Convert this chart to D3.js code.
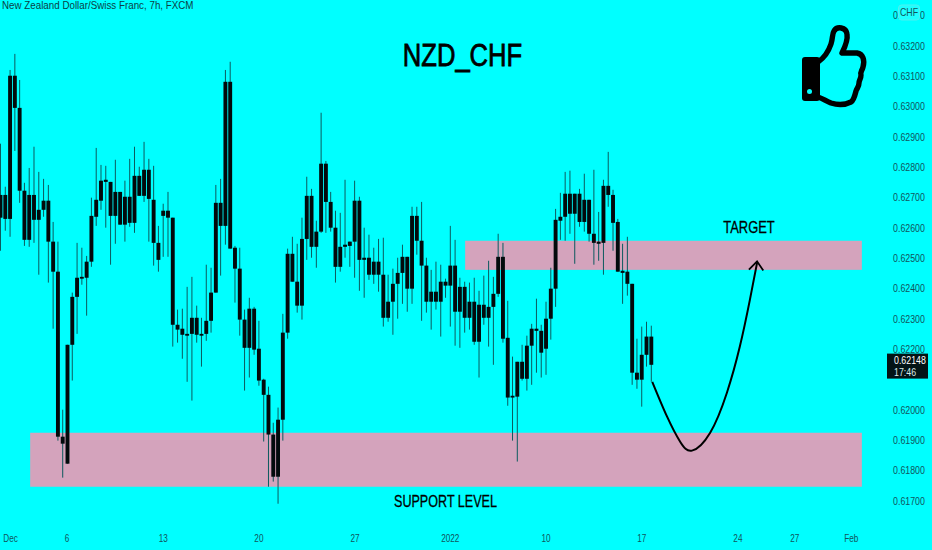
<!DOCTYPE html>
<html><head><meta charset="utf-8">
<script src="https://cdn.jsdelivr.net/npm/d3@7"></script>
<style>html,body{margin:0;padding:0;background:#00ffff;overflow:hidden}svg{display:block}text{font-family:"Liberation Sans",sans-serif}</style>
</head><body><svg id="c" width="932" height="550"></svg>
<script>
// prices in points of 0.00001
const bodyHigh=[62709,62709,63102,63102,62996,62723,62709,62709,62660,62690,62690,62555,62456,61912,62215,62373,62436,62439,62489,62640,62693,62756,62759,62752,62719,62719,62703,62703,62772,62772,62792,62792,62693,62551,62657,62657,62634,62281,62268,62251,62304,62304,62251,62294,62387,62683,62683,63082,63082,62535,62466,62298,62334,62334,62202,62100,62050,61919,61968,62255,62515,62515,62423,62564,62706,62706,62588,62812,62812,62686,62601,62538,62545,62555,62690,62690,62502,62502,62489,62489,62446,62357,62416,62452,62505,62505,62640,62640,62558,62476,62390,62390,62423,62423,62476,62476,62406,62406,62357,62357,62347,62347,62340,62383,62505,62505,62238,62047,62159,62159,62212,62268,62268,62261,62301,62400,62627,62637,62713,62713,62713,62713,62693,62693,62581,62555,62739,62739,62709,62620,62459,62456,62416,62123,62182,62242,62242];
const bodyLow=[62634,62630,62630,62996,62723,62561,62561,62627,62627,62660,62555,62456,61912,61889,61823,62215,62373,62433,62436,62489,62637,62690,62752,62640,62640,62611,62611,62617,62617,62706,62706,62696,62551,62495,62640,62634,62281,62265,62248,62245,62251,62248,62245,62251,62294,62387,62607,62607,62532,62466,62298,62205,62205,62199,62097,62050,61919,61780,61780,61968,62255,62423,62344,62344,62564,62538,62538,62588,62686,62601,62472,62472,62538,62541,62555,62495,62495,62446,62446,62446,62304,62304,62357,62416,62452,62400,62400,62558,62476,62357,62357,62357,62357,62410,62410,62324,62324,62304,62304,62225,62225,62304,62304,62340,62383,62235,62041,62041,62044,62103,62103,62212,62261,62189,62202,62301,62400,62624,62637,62647,62647,62620,62620,62581,62551,62548,62551,62709,62617,62456,62452,62416,62123,62100,62100,62182,62149];
const wickHigh=[62878,62736,63121,63174,63088,62749,62798,62868,62785,62762,62742,62620,62555,62001,62215,62387,62551,62535,62508,62700,62864,62808,62805,62752,62825,62719,62756,62828,62868,62802,62884,62828,62805,62607,62680,62719,62634,62331,62334,62406,62439,62344,62304,62479,62469,62742,62762,63121,63148,62541,62535,62331,62370,62340,62294,62103,62077,61958,62008,62317,62532,62571,62548,62634,62769,62729,62624,62980,62821,62719,62657,62650,62759,62555,62756,62703,62601,62578,62535,62564,62568,62446,62466,62502,62545,62505,62670,62670,62686,62502,62462,62489,62479,62433,62607,62561,62436,62423,62420,62436,62393,62443,62492,62439,62581,62551,62360,62176,62159,62215,62245,62284,62367,62281,62357,62469,62663,62716,62785,62789,62713,62729,62779,62693,62792,62653,62759,62851,62726,62630,62548,62571,62416,62235,62275,62291,62278];
const wickLow=[62525,62591,62571,62854,62683,62541,62538,62551,62446,62637,62420,62268,61899,61777,61823,62097,62251,62413,62311,62472,62607,62660,62601,62479,62548,62611,62555,62604,62584,62706,62686,62555,62476,62456,62505,62505,62209,62222,62169,62093,62031,62222,62143,62228,62255,62387,62443,62545,62532,62354,62245,62064,62107,62182,62080,61896,61747,61764,61691,61899,62235,62423,62321,62298,62495,62502,62469,62584,62584,62588,62420,62456,62502,62472,62436,62393,62370,62429,62416,62390,62275,62291,62248,62301,62350,62324,62350,62512,62294,62321,62265,62331,62242,62370,62275,62212,62205,62255,62265,62215,62107,62281,62209,62149,62373,62222,62014,61899,61830,62097,62064,62083,62123,62107,62116,62232,62340,62561,62558,62581,62482,62604,62588,62555,62479,62492,62446,62670,62525,62456,62350,62377,62083,62070,62011,62143,62093];

const priceTicks=[63300,63200,63100,63000,62900,62800,62700,62600,62500,62400,62300,62200,62000,61900,61800,61700];
const timeLabels=["Dec","6","13","20","27","2022","10","17","24","27","Feb"];
const timeBars=[2.1,13.9,34,54,74.1,94,114,134,154.1,166,177.8];

const targetZone={fromBar:97.1,toBar:180,high:62558,low:62462};
const supportZone={fromBar:6.2,toBar:180,high:61925,low:61747};
const pathBars=[136.2,139.3,142,144.5,148.3,151.8,154.5,156.6,158.1];
const pathPrices=[62093,61978,61896,61866,61925,62057,62209,62363,62485];
const arrowBars=[156.4,158.1,159.4];
const arrowPrices=[62463,62490,62460];
const lastPrice=62148, lastPriceLabel="0.62148", countdown="17:46";

const svg=d3.select("#c");
const x=d3.scaleLinear().domain([0,136]).range([0.5,651.3]);
const y=d3.scaleLinear().domain([63200,61700]).range([46,501]);

// squeeze text horizontally to the reference's narrow lettering
function condense(sel,f){
  sel.each(function(){
    const w=this.getComputedTextLength();
    d3.select(this).attr("textLength",w*f).attr("lengthAdjust","spacingAndGlyphs");
  });
  return sel;
}

svg.append("rect").attr("width",932).attr("height",550).attr("fill","#00ffff");

// zones
[targetZone,supportZone].forEach(z=>{
  svg.append("rect").attr("x",x(z.fromBar)).attr("width",x(z.toBar)-x(z.fromBar))
    .attr("y",y(z.high)).attr("height",y(z.low)-y(z.high)).attr("fill","#d4a3bc");
});

// candles
const idx=d3.range(bodyHigh.length);
svg.append("g").selectAll("line").data(idx).join("line")
  .attr("x1",i=>x(i)).attr("x2",i=>x(i)).attr("y1",i=>y(wickHigh[i])).attr("y2",i=>y(wickLow[i]))
  .attr("stroke","#0c5a5e").attr("stroke-width",1);
svg.append("g").selectAll("rect").data(idx).join("rect")
  .attr("x",i=>x(i)-1.95).attr("width",3.9).attr("y",i=>y(bodyHigh[i]))
  .attr("height",i=>Math.max(1.2,y(bodyLow[i])-y(bodyHigh[i]))).attr("fill","#020a0c");

// projected path
svg.append("path").attr("d",d3.line().x(d=>x(d[0])).y(d=>y(d[1])).curve(d3.curveNatural)(d3.zip(pathBars,pathPrices)))
  .attr("fill","none").attr("stroke","#000").attr("stroke-width",2);
svg.append("path").attr("d",d3.line().x(d=>x(d[0])).y(d=>y(d[1]))(d3.zip(arrowBars,arrowPrices)))
  .attr("fill","none").attr("stroke","#000").attr("stroke-width",1.8);

// price axis
condense(svg.append("g").selectAll("text").data(priceTicks).join("text")
  .attr("x",909).attr("y",d=>y(d)+3.5).attr("text-anchor","middle")
  .attr("font-size",11).attr("fill","#11555c").text(d=>(d/100000).toFixed(5)),0.8);
// time axis
condense(svg.append("g").selectAll("text").data(timeBars).join("text")
  .attr("x",d=>x(d)).attr("y",542).attr("text-anchor","middle")
  .attr("font-size",10.5).attr("fill","#11555c").text((d,i)=>timeLabels[i]),0.78);

// currency badge
svg.append("rect").attr("x",898.5).attr("y",5).attr("width",21).attr("height",15).attr("rx",3)
  .attr("fill","#1fffff").attr("stroke","#4ff0f0").attr("stroke-width",1);
condense(svg.append("text").attr("x",909).attr("y",16).attr("text-anchor","middle")
  .attr("font-size",11).attr("fill","#11555c").text("CHF"),0.8);

// last price tag
const tagY=y(lastPrice);
svg.append("rect").attr("x",887).attr("y",tagY-11.5).attr("width",41).attr("height",25).attr("fill","#031416");
condense(svg.append("text").attr("x",894).attr("y",tagY-1).attr("font-size",11).attr("fill","#fff").text(lastPriceLabel),0.8);
condense(svg.append("text").attr("x",894).attr("y",tagY+10.5).attr("font-size",11).attr("fill","#d8e8e8").text(countdown),0.8);

// titles
condense(svg.append("text").attr("x",2).attr("y",9).attr("font-size",11).attr("fill","#0c3f46")
  .text("New Zealand Dollar/Swiss Franc, 7h, FXCM"),0.89);
condense(svg.append("text").attr("x",462.5).attr("y",66).attr("text-anchor","middle").attr("font-size",32)
  .attr("fill","#000").attr("stroke","#000").attr("stroke-width",.8).text("NZD_CHF"),0.8);
condense(svg.append("text").attr("x",749).attr("y",233).attr("text-anchor","middle").attr("font-size",17)
  .attr("fill","#000").attr("stroke","#000").attr("stroke-width",.3).text("TARGET"),0.76);
condense(svg.append("text").attr("x",445.5).attr("y",507).attr("text-anchor","middle").attr("font-size",17)
  .attr("fill","#000").attr("stroke","#000").attr("stroke-width",.3).text("SUPPORT LEVEL"),0.74);

// thumbs-up icon
const thumb=svg.append("g");
thumb.append("rect").attr("x",802).attr("y",57).attr("width",18).attr("height",44).attr("rx",3).attr("fill","#000");
thumb.append("circle").attr("cx",809.5).attr("cy",91.5).attr("r",2.5).attr("fill","#00ffff");
thumb.append("path")
  .attr("d","M818 62 C824 58 829 50 831 44 C833 38 832 34 834 31 C837 26 846 27 847 34 C848 40 845 47 842 53 L857 53 C863 54 865 60 863 67 C862 71 860 72 861 75 C861 79 859 80 859 83 C859 87 857 88 856 91 C855 95 854 100 851 102 C845 105 837 105 831 103 C826 101 822 98 818 97")
  .attr("fill","none").attr("stroke","#000").attr("stroke-width",5.4).attr("stroke-linejoin","round");
</script></body></html>
